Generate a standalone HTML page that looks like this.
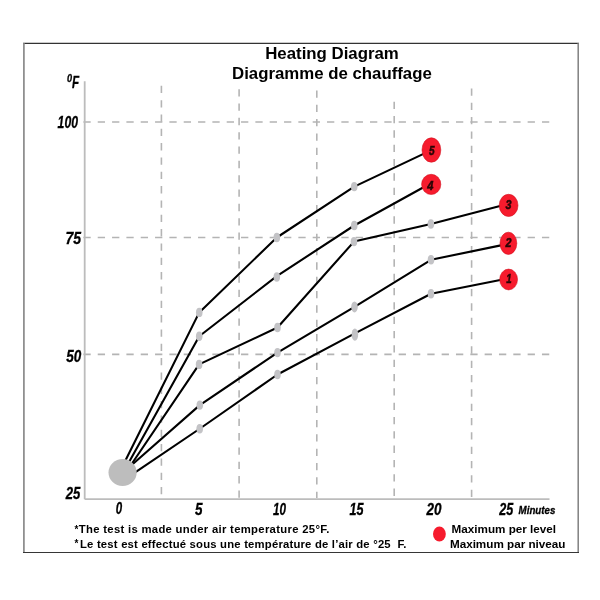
<!DOCTYPE html>
<html><head><meta charset="utf-8"><title>Heating Diagram</title>
<style>
html,body{margin:0;padding:0;background:#fff;width:600px;height:600px;overflow:hidden}
svg{display:block}
.t{font-family:"Liberation Sans",Arial,sans-serif;font-weight:bold;fill:#000}
.ax{font-family:"Liberation Sans",Arial,sans-serif;font-style:italic;font-weight:bold;fill:#000;stroke:#000;stroke-width:0.3px}
.num text{font-family:"Liberation Sans",Arial,sans-serif;font-style:italic;font-weight:bold;fill:#2a0505;font-size:12.4px;stroke:#2a0505;stroke-width:0.5px}
</style></head>
<body>
<svg width="600" height="600" viewBox="0 0 600 600">
<!-- frame -->
<line x1="23" y1="43.4" x2="579" y2="43.4" stroke="#333" stroke-width="1.2"/>
<line x1="23.9" y1="43" x2="23.9" y2="553" stroke="#8a8a8a" stroke-width="1.7"/>
<line x1="578.2" y1="43" x2="578.2" y2="553" stroke="#808080" stroke-width="1.5"/>
<line x1="23" y1="552.5" x2="579" y2="552.5" stroke="#363636" stroke-width="1.1"/>

<!-- title -->
<text class="t" x="265.2" y="59.4" font-size="16" textLength="133.6" lengthAdjust="spacingAndGlyphs">Heating Diagram</text>
<text class="t" x="232" y="79" font-size="16" textLength="199.8" lengthAdjust="spacingAndGlyphs">Diagramme de chauffage</text>

<!-- grid dashed -->
<g stroke="#b4b4b4" stroke-width="1.6" stroke-dasharray="7.3 7.03" fill="none">
  <line x1="83.4" y1="122" x2="550" y2="122"/>
  <line x1="83.4" y1="237.5" x2="550" y2="237.5"/>
  <line x1="83.4" y1="354.4" x2="550" y2="354.4"/>
  <line x1="161.4" y1="85.8" x2="161.4" y2="498"/>
  <line x1="239.1" y1="89.2" x2="239.1" y2="498"/>
  <line x1="316.8" y1="90.4" x2="316.8" y2="498"/>
  <line x1="394.2" y1="101.7" x2="394.2" y2="498"/>
  <line x1="471.6" y1="88.4" x2="471.6" y2="498"/>
</g>

<!-- axes -->
<g stroke="#bcbcbc" stroke-width="1.8" fill="none">
  <line x1="84.7" y1="81.3" x2="84.7" y2="499.2"/>
  <line x1="84.7" y1="499.1" x2="549.5" y2="499.1"/>
</g>

<!-- axis labels -->
<text class="ax" font-size="10.6" x="66.9" y="81.7" textLength="5.1" lengthAdjust="spacingAndGlyphs">0</text>
<text class="ax" font-size="16.4" x="71.9" y="87.7" textLength="7.1" lengthAdjust="spacingAndGlyphs">F</text>
<text class="ax" font-size="16" x="57.6" y="128" textLength="20.4" lengthAdjust="spacingAndGlyphs">100</text>
<text class="ax" font-size="16" x="65.5" y="243.8" textLength="15.6" lengthAdjust="spacingAndGlyphs">75</text>
<text class="ax" font-size="16" x="66.2" y="361.8" textLength="15" lengthAdjust="spacingAndGlyphs">50</text>
<text class="ax" font-size="16" x="65.7" y="499.3" textLength="14.6" lengthAdjust="spacingAndGlyphs">25</text>

<text class="ax" font-size="15.8" x="115.8" y="514.2" textLength="6.4" lengthAdjust="spacingAndGlyphs">0</text>
<text class="ax" font-size="15.8" x="195" y="514.5" textLength="7.5" lengthAdjust="spacingAndGlyphs">5</text>
<text class="ax" font-size="15.8" x="273" y="515" textLength="13" lengthAdjust="spacingAndGlyphs">10</text>
<text class="ax" font-size="15.8" x="349.6" y="515.4" textLength="14" lengthAdjust="spacingAndGlyphs">15</text>
<text class="ax" font-size="15.8" x="426.5" y="515" textLength="15" lengthAdjust="spacingAndGlyphs">20</text>
<text class="ax" font-size="15.8" x="499.3" y="514.8" textLength="14" lengthAdjust="spacingAndGlyphs">25</text>
<text class="ax" font-size="11" x="518.6" y="514.3" textLength="36.7" lengthAdjust="spacingAndGlyphs">Minutes</text>

<!-- data lines -->
<g stroke="#000" stroke-width="2.1" fill="none" stroke-linejoin="round">
  <polyline points="124.7,462 199.25,312.4 276.8,237.5 354.25,186.6 424,153.6"/>
  <polyline points="128.5,462.9 199.25,336.25 276.8,276.1 354.25,225.5 424,187"/>
  <polyline points="131.3,464.5 199.1,364.4 277.5,327.5 354,241.6 430.9,224 501,205.7"/>
  <polyline points="131.7,465 199.8,405.1 277.5,352.6 354.5,306.9 431,259.8 502,245.1"/>
  <polyline points="134.8,472.7 199.7,428.75 277.5,374.5 354.9,333.4 431,293.75 501.5,279.7"/>
</g>

<!-- start circle -->
<ellipse cx="122.6" cy="472.5" rx="14.1" ry="13.4" fill="#bdbdbd"/>

<!-- grey markers -->
<g fill="#c3c3c6">
  <ellipse cx="199.25" cy="312.4" rx="3.3" ry="4.7"/>
  <ellipse cx="276.8" cy="237.5" rx="3.3" ry="4.7"/>
  <ellipse cx="354.25" cy="186.6" rx="3.3" ry="4.7"/>
  <ellipse cx="199.25" cy="336.25" rx="3.3" ry="4.7"/>
  <ellipse cx="276.8" cy="277" rx="3.3" ry="4.7"/>
  <ellipse cx="354.25" cy="225.5" rx="3.3" ry="4.7"/>
  <ellipse cx="199.1" cy="364.4" rx="3.3" ry="4.7"/>
  <ellipse cx="277.5" cy="327.5" rx="3.3" ry="4.7"/>
  <ellipse cx="354" cy="241.6" rx="3.3" ry="4.7"/>
  <ellipse cx="430.9" cy="224" rx="3.3" ry="4.7"/>
  <ellipse cx="199.8" cy="405.1" rx="3.3" ry="4.7"/>
  <ellipse cx="277.5" cy="352.6" rx="3.3" ry="4.7"/>
  <ellipse cx="354.5" cy="306.9" rx="3.3" ry="5.5"/>
  <ellipse cx="431" cy="259.8" rx="3.3" ry="4.7"/>
  <ellipse cx="199.7" cy="428.75" rx="3.3" ry="4.7"/>
  <ellipse cx="277.5" cy="374.5" rx="3.3" ry="4.7"/>
  <ellipse cx="354.9" cy="334.6" rx="3.3" ry="6.2"/>
  <ellipse cx="431" cy="293.75" rx="3.3" ry="4.7"/>
</g>

<!-- red maxima -->
<g fill="#f61b2d" stroke="#d3101f" stroke-width="0.6">
  <ellipse cx="431.4" cy="150" rx="9.4" ry="12.2"/>
  <ellipse cx="431.2" cy="184.4" rx="9.6" ry="10.1"/>
  <ellipse cx="508.6" cy="205.4" rx="9.4" ry="11.1"/>
  <ellipse cx="508.4" cy="243.3" rx="8.4" ry="11.1"/>
  <ellipse cx="508.6" cy="279.5" rx="8.9" ry="10.4"/>
</g>
<g class="num">
<text x="428.9" y="155" textLength="5.6" lengthAdjust="spacingAndGlyphs">5</text>
<text x="427.2" y="189.7" textLength="6.2" lengthAdjust="spacingAndGlyphs">4</text>
<text x="505.6" y="209.1" textLength="6" lengthAdjust="spacingAndGlyphs">3</text>
<text x="505.4" y="246.5" textLength="6" lengthAdjust="spacingAndGlyphs">2</text>
<text x="506.2" y="282.7" textLength="5.4" lengthAdjust="spacingAndGlyphs">1</text>
</g>

<!-- footnotes -->
<text class="t" font-size="10" x="74.6" y="532.5">*</text>
<text class="t" font-size="11.3" x="78.8" y="533.3" textLength="250.5" lengthAdjust="spacing">The test is made under air temperature 25°F.</text>
<text class="t" font-size="10" x="74.6" y="547">*</text>
<text class="t" font-size="11.3" x="80" y="547.5" textLength="326.5" lengthAdjust="spacing" style="white-space:pre">Le test est effectué sous une température de l’air de °25  F.</text>

<!-- legend -->
<ellipse cx="439.4" cy="534" rx="6.4" ry="7.5" fill="#f61b2d"/>
<text class="t" font-size="11.7" x="451.5" y="532.8">Maximum per level</text>
<text class="t" font-size="11.7" x="449.9" y="547.5">Maximum par niveau</text>
</svg>
</body></html>
